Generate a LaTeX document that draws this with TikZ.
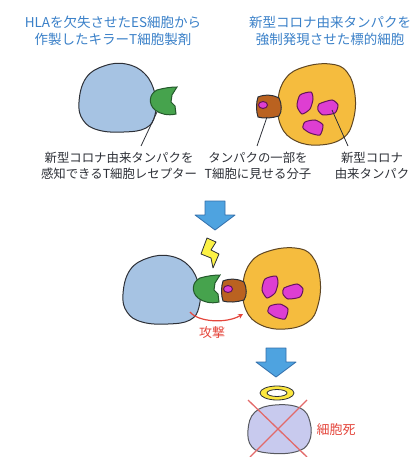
\documentclass[tikz,border=0pt]{standalone}
\usepackage{fontspec}
\setmainfont{Noto Sans CJK JP}
\usepackage{tikz}
\usetikzlibrary{arrows.meta, calc}
\definecolor{titleBlue}{RGB}{58,128,200}
\definecolor{cellBlue}{RGB}{166,195,227}
\definecolor{tcrGreen}{RGB}{70,163,77}
\definecolor{cellOrange}{RGB}{245,188,62}
\definecolor{mhcBrown}{RGB}{186,98,32}
\definecolor{viralPink}{RGB}{222,62,210}
\definecolor{viralEdge}{RGB}{100,20,90}
\definecolor{arrowBlue}{RGB}{78,163,224}
\definecolor{arrowEdge}{RGB}{50,110,170}
\definecolor{boltYellow}{RGB}{252,242,70}
\definecolor{attackRed}{RGB}{228,70,60}
\definecolor{deadLilac}{RGB}{200,202,238}
\definecolor{crossRed}{RGB}{226,106,106}
\definecolor{inkDark}{RGB}{45,48,55}
\definecolor{orangeEdge}{RGB}{95,70,35}
\tikzset{
  title/.style={text=titleBlue, align=center, inner sep=0pt, font=\fontsize{13.5}{17}\selectfont},
  callout/.style={text=inkDark, align=center, inner sep=0pt, font=\fontsize{12.4}{16}\selectfont},
  redlabel/.style={text=attackRed, inner sep=0pt, font=\fontsize{13}{16}\selectfont},
  tcell/.style={fill=cellBlue, draw=inkDark, line width=1pt},
  tcr/.style={fill=tcrGreen, draw=inkDark!80!green, line width=1pt},
  target/.style={fill=cellOrange, draw=orangeEdge, line width=1pt},
  mhc/.style={fill=mhcBrown, draw=inkDark, line width=1pt},
  viral/.style={fill=viralPink, draw=viralEdge, line width=1pt},
  bigarrow/.style={fill=arrowBlue, draw=arrowEdge, line width=0.8pt, line join=round},
  pointer/.style={draw=inkDark, line width=0.8pt},
}
% shapes reused in both rows
\newcommand{\tcellpath}{plot[smooth cycle, tension=0.7] coordinates {(79,102) (86,78) (104,66) (126,64) (145,74) (155,94) (155,115) (146,128) (124,132) (98,130) (83,120)}}
\newcommand{\tcrpath}{(177,87) -- (172,95) -- (171,102) -- (175,106) -- (176,114) .. controls (168,116) and (160,114) .. (155,110) .. controls (148,104) and (149,94) .. (157,90) .. controls (164,88) and (171,87) .. (177,87) -- cycle}
\newcommand{\arrowpath}{(205,201) -- (225,201) -- (225,215) -- (235,215) -- (215,230) -- (195,215) -- (205,215) -- cycle}

\begin{document}
\begin{tikzpicture}[x=1pt, y=-1pt]
  \useasboundingbox (0,0) rectangle (417,457);

  % titles
  \node[title] (titleTcell) at (113,31) {HLAを欠失させたES細胞から\\作製したキラーT細胞製剤};
  \node[title] (titleTarget) at (330,31) {新型コロナ由来タンパクを\\強制発現させた標的細胞};

  % top row: T cell with receptor
  \draw[tcell] \tcellpath;
  \draw[tcr] \tcrpath;

  % top row: target cell
  \begin{scope}
    \draw[target] plot[smooth cycle, tension=0.7] coordinates {(278,100) (286,78) (304,67) (330,64) (347,72) (355,95) (353,121) (343,138) (320,145) (296,141) (281,126)};
    \draw[mhc] (258,97) .. controls (265,94) and (274,95) .. (279,98) .. controls (282,104) and (282,112) .. (279,116) .. controls (272,118) and (264,119) .. (258,117) .. controls (256,111) and (256,103) .. (258,97) -- cycle;
    \draw[viral] (263,105) ellipse (4.5 and 3.5);
    \draw[viral] plot[smooth cycle, tension=0.4] coordinates {(300,95) (311,92) (313,99) (310,109) (302,114) (297,106)};
    \draw[viral] plot[smooth cycle, tension=0.4] coordinates {(319,104) (332,100) (338,105) (335,113) (323,115) (318,110)};
    \draw[viral] plot[smooth cycle, tension=0.4] coordinates {(305,122) (315,120) (323,125) (320,135) (310,133) (303,128)};
  \end{scope}

  % callouts
  \coordinate (tcrTip) at (157,112);
  \coordinate (tcrEnd) at (141,146);
  \coordinate (mhcTip) at (267,117);
  \coordinate (mhcEnd) at (257,146);
  \coordinate (viralTip) at (332,110);
  \coordinate (viralEnd) at (348,146);
  \draw[pointer] (tcrTip) -- (tcrEnd);
  \draw[pointer] (mhcTip) -- (mhcEnd);
  \draw[pointer] (viralTip) -- (viralEnd);
  \node[callout] (lblTcr) at (119,166) {新型コロナ由来タンパクを\\感知できるT細胞レセプター};
  \node[callout] (lblMhc) at (258,166) {タンパクの一部を\\T細胞に見せる分子};
  \node[callout] (lblViral) at (372,166) {新型コロナ\\由来タンパク};

  % step arrow 1
  \draw[bigarrow] \arrowpath;

  % lightning
  \draw[fill=boltYellow, draw=inkDark, line width=0.8pt, line join=round]
    (207,238) -- (216,242) -- (211,250) -- (219,254) -- (213,268) -- (211,258) -- (201,254) -- cycle;

  % middle row: attack
  \begin{scope}[shift={(44,192)}]
    \draw[tcell] \tcellpath;
  \end{scope}
  \begin{scope}[shift={(43,188)}]
    \draw[tcr] \tcrpath;
  \end{scope}
  \begin{scope}[shift={(-35,184)}]
    \draw[target] plot[smooth cycle, tension=0.7] coordinates {(278,100) (286,78) (304,67) (330,64) (347,72) (355,95) (353,121) (343,138) (320,145) (296,141) (281,126)};
    \draw[mhc] (258,97) .. controls (265,94) and (274,95) .. (279,98) .. controls (282,104) and (282,112) .. (279,116) .. controls (272,118) and (264,119) .. (258,117) .. controls (256,111) and (256,103) .. (258,97) -- cycle;
    \draw[viral] (263,105) ellipse (4.5 and 3.5);
    \draw[viral] plot[smooth cycle, tension=0.4] coordinates {(300,95) (311,92) (313,99) (310,109) (302,114) (297,106)};
    \draw[viral] plot[smooth cycle, tension=0.4] coordinates {(319,104) (332,100) (338,105) (335,113) (323,115) (318,110)};
    \draw[viral] plot[smooth cycle, tension=0.4] coordinates {(305,122) (315,120) (323,125) (320,135) (310,133) (303,128)};
  \end{scope}

  \coordinate (atkFrom) at (190,312);
  \coordinate (atkTo) at (243,314);
  \draw[attackRed, line width=1.2pt, -{Stealth[length=5pt, width=5pt]}] (atkFrom) .. controls (198,322) and (226,324) .. (atkTo);
  \node[redlabel] (lblAttack) at (212,333) {攻撃};

  % step arrow 2
  \begin{scope}[shift={(61,147)}]
    \draw[bigarrow] \arrowpath;
  \end{scope}

  % halo and dead cell
  \draw[fill=boltYellow!90!orange, draw=inkDark, line width=0.8pt, even odd rule]
    (277,393) ellipse (17 and 7) (277,393) ellipse (10 and 3.5);
  \draw[fill=deadLilac, draw=inkDark!80, line width=1pt] plot[smooth cycle, tension=0.7] coordinates {(248,430) (255,412) (275,405) (300,408) (310,422) (309,442) (295,452) (268,453) (252,447)};
  \draw[crossRed, line width=1.3pt] (248,400) -- (307,457);
  \draw[crossRed, line width=1.3pt] (307,400) -- (250,457);
  \node[redlabel] (lblDeath) at (336,430) {細胞死};
\end{tikzpicture}
\end{document}
